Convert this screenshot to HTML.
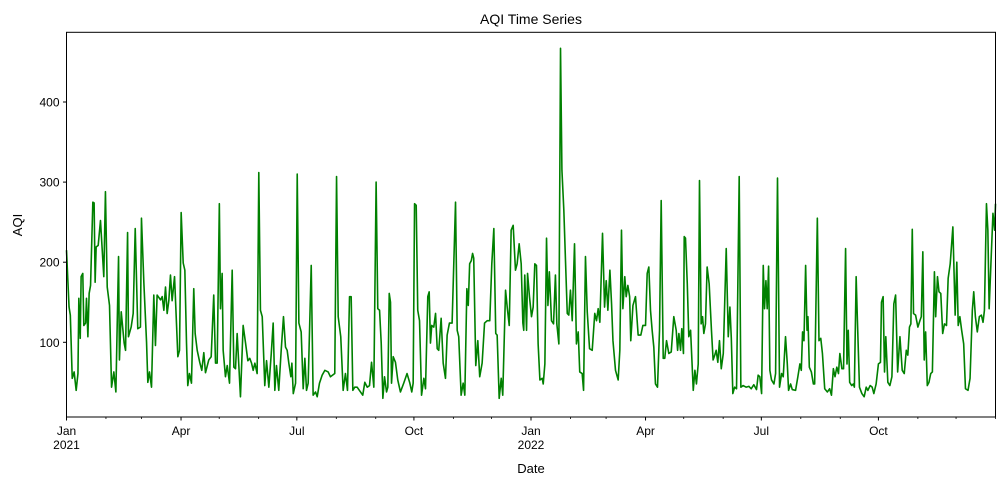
<!DOCTYPE html>
<html><head><meta charset="utf-8"><style>
body{margin:0;background:#fff;}
svg{display:block;font-family:"Liberation Sans","DejaVu Sans",sans-serif;}
</style></head><body>
<svg id="chart" width="1005" height="486" viewBox="0 0 1005 486">
<rect x="0" y="0" width="1005" height="486" fill="#fff"/>
<text x="531" y="24" text-anchor="middle" font-size="14" fill="#000">AQI Time Series</text>
<text x="531" y="473" text-anchor="middle" font-size="13" fill="#000">Date</text>
<text x="22" y="225" text-anchor="middle" font-size="13" fill="#000" transform="rotate(-90 22 225)">AQI</text>
<g id="plot"></g>
</svg>
<script>
const days = [0,2,3,4.5,6,7.6,9,9.7,10.8,11.5,12.8,13.6,15,15.7,16.8,17.8,18.9,20.7,21.7,22.5,23.3,24.9,26.7,29.3,30.6,32,33.8,35.4,37.2,38.8,40.9,41.6,43,45.3,46.4,48,48.7,50.8,52.4,54,56,58.1,58.9,60.8,62.9,63.9,65.2,66.8,68.6,69.9,71.2,73.9,75.2,76.5,77.8,79.1,80.4,81.7,83,84.9,87.5,88.8,90.1,91.7,93,94.3,95.3,96.6,98.2,100,101.1,102.7,104.7,106.3,107.9,109.2,111.8,113.7,115.7,117.1,118.4,120.1,121,122.3,123.1,124.9,126.3,128.1,130.2,131.5,132.8,134.1,136.7,138.8,140.7,142.5,144,145.4,146.7,148,149.8,151.1,152.4,153.8,155.8,157.2,159,160.9,162.4,163.7,165,166.8,168.7,170.5,172.1,173.4,174.7,176.3,177.1,178.2,180,181.3,182.6,184.4,186,187.3,188.6,189.9,192.3,193.8,195.7,197,198.8,200.9,203,205.6,207.4,210.8,212.2,213.5,215.5,217.4,219.2,220.8,222.4,223.7,225,226.5,228.4,231,232.8,234.4,236.3,238.1,239.7,241.5,243.3,244.6,246,247.3,248.6,249.9,251.5,252.5,253.6,254.6,255.4,256.7,258.5,260.3,262.4,265,267.6,269.8,271.3,272.4,273.5,274.8,276,277.4,279,280.8,282.1,283.9,285,286,287,288.6,290,291.3,292.5,294.4,296,297.8,299.1,300.9,303,305.7,307,308.2,310.1,311.7,313,314.6,315.7,316.8,318.1,319.1,320,321.6,323.2,324.7,326.6,328.5,330.6,332.6,334.2,335.8,337.3,338.4,340,341.6,342.8,345,346.3,347.9,349.4,351,352.8,354.1,355.7,357.3,358.6,359.3,360.1,361.5,362.3,363.8,365.4,366.7,368,369.3,370.6,372,373.8,374.6,375.9,377.2,378.3,379.4,381.1,382.7,384.2,385.3,386.9,388.2,389.3,390.8,392.1,393.5,394.7,396,397.4,399.2,400.7,402.1,403.3,405.2,406.3,407.8,409.2,411,413.1,415.1,416.5,417.8,419.1,421.2,422.8,424.1,425.4,427,428.3,429.4,431.4,433.5,434.8,436.1,437.2,438.7,439.8,441.1,442.5,443.4,445.1,447.1,449.2,451.3,452.9,455,456.3,457.6,458.9,460.2,461.5,462.8,464.4,466,467.3,468.9,470.1,471.5,473.3,475.2,477.2,479.1,480.2,481.2,482.5,483.5,484.8,485.4,486.4,487.8,489,490.4,492.5,493.8,495,496.4,497.4,498.7,499.8,500.8,502.1,503.4,505,506.8,508.1,509.4,510.5,511.8,513.1,514.5,516.1,518.4,520,521.3,522.4,523.6,525,526.5,528.6,529.9,531.7,534.1,536.2,538,540.1,542.2,543.5,544.8,546.2,547.5,548.5,549.6,550.6,551.7,552.7,554,555.9,557.2,558.7,560.3,561.9,563.2,565,566.4,567.4,569,570.3,572.9,574.7,576.3,577.4,578.4,579.5,580.8,581.9,582.6,583.7,585.3,586.9,587.9,590,591.3,592.7,594,595.8,597.9,599.7,601.1,602.6,603.9,605.3,606.6,607.7,609.3,610.6,612.2,613.3,614.3,615.4,617,618.3,619.1,620.5,621.5,623.1,625,626.8,628.4,629.7,631.5,633.1,634.4,636.2,638,639.6,640.4,641.7,642.8,643.8,645.4,647,648.6,650.1,651.5,653.1,654.9,656.7,658.3,659.9,661.1,662.4,663.5,664.6,665.6,667.2,669,670.6,671.7,672.9,674,675.1,676.4,677.7,679.1,680.4,682,683,684.4,685.6,687,688.5,689.9,691.5,692.8,694.4,696.5,698.3,699.6,700.7,702,703.4,705,706.4,708.4,710,711.8,712.9,714.2,715.7,717.3,718.9,720.2,721.3,722.9,724,725,726.4,728,729.3,730];
const aqi = [215,144,134,55,63,40,61,155,105,182,186,121,124,155,107,161,171,275,274,175,219,221,252,182,288,169,146,44,63,38,207,78,138,99,90,237,107,119,136,242,117,119,255,174,100,50,63,44,159,96,159,153,157,140,169,136,152,184,152,182,82,90,262,199,190,99,46,61,49,167,111,90,75,65,87,62,78,82,159,74,74,273,142,186,90,57,71,49,190,69,67,111,32,121,99,77,80,74,65,74,61,312,140,132,46,77,44,86,124,40,71,40,90,132,94,90,74,57,74,36,49,310,124,113,42,80,40,49,196,34,38,32,49,59,65,63,57,61,307,132,107,40,61,40,157,157,40,44,44,38,34,50,44,46,75,44,300,142,140,99,30,57,38,44,161,150,49,82,75,53,38,49,61,49,38,49,273,271,140,127,34,55,42,157,163,99,121,119,136,92,90,130,74,55,109,124,124,275,115,107,34,49,34,167,146,198,202,211,205,71,102,57,74,124,127,127,198,242,111,109,30,55,34,165,144,121,240,246,190,198,223,198,124,115,184,115,186,157,132,144,198,196,98,53,55,48,73,230,146,188,127,123,184,123,98,467,315,265,202,136,134,165,127,223,98,113,63,61,40,207,138,92,90,136,127,142,125,236,144,177,140,190,148,102,65,53,90,240,142,182,157,171,157,102,146,157,109,109,121,121,186,194,140,115,94,48,44,115,277,80,80,102,86,88,132,115,90,111,90,117,86,232,230,173,107,115,40,65,48,73,302,123,132,111,123,194,173,115,78,84,90,75,102,67,86,217,107,144,105,36,44,42,307,44,46,44,45,42,47,41,59,57,36,196,142,177,142,195,65,53,48,61,305,44,61,57,107,73,40,48,41,40,57,73,65,113,102,196,115,132,69,63,48,48,255,102,105,86,42,38,42,34,67,57,69,61,86,67,67,217,73,115,50,46,48,44,182,127,44,36,32,44,40,46,44,36,48,73,75,150,157,63,107,50,46,57,148,159,63,107,65,61,90,84,119,123,241,136,134,119,127,132,213,78,113,46,50,61,63,188,132,182,163,161,111,123,121,180,198,244,134,200,121,132,115,98,42,40,55,140,163,132,113,132,134,125,140,273,240,142,198,261,240,273];
const yTickVals = [100,200,300,400];
const xTickDays = [0,90,181,273,365,455,546,638];
const xTickLabels = [["Jan","2021"],["Apr",""],["Jul",""],["Oct",""],["Jan","2022"],["Apr",""],["Jul",""],["Oct",""]];
const monthStartDays = [0,31,59,90,120,151,181,212,243,273,304,334,365,396,424,455,485,516,546,577,608,638,669,699,730];

const NS = "http://www.w3.org/2000/svg";
const L = 66.5, R = 995.5, T = 32.3, B = 417;
const xScale = d => L + d * (R - L) / 730;
const yScale = v => 422.4 - v * 0.801;
const g = document.getElementById('plot');
function mk(tag, attrs){ const e = document.createElementNS(NS, tag); for (const k in attrs) e.setAttribute(k, attrs[k]); return e; }

// series line
let dstr = '';
days.forEach((d,i)=>{ dstr += (i ? 'L' : 'M') + xScale(d).toFixed(2) + ' ' + yScale(aqi[i]).toFixed(2); });
const line = mk('path', {d: dstr, fill: 'none', stroke: '#008000', 'stroke-width': 1.6, 'stroke-linejoin': 'round'});


g.appendChild(line);

// frame
const frame = mk('rect', {x: L, y: T, width: R - L, height: B - T, fill: 'none', stroke: '#000', 'stroke-width': 1});


g.appendChild(frame);

// y ticks
yTickVals.forEach(v => {
  const y = yScale(v);
  const t = mk('line', {x1: L - 3.5, x2: L, y1: y, y2: y, stroke: '#000', 'stroke-width': 1});
  
  
  g.appendChild(t);
  const lb = mk('text', {x: L - 7, y: y + 4.5, 'text-anchor': 'end', 'font-size': 12, fill: '#000'});
  lb.textContent = v;
  
  
  g.appendChild(lb);
});

// minor x ticks
monthStartDays.forEach(d => {
  if (xTickDays.includes(d)) return;
  const x = xScale(d);
  const t = mk('line', {x1: x, x2: x, y1: B, y2: B + 2, stroke: '#000', 'stroke-width': 0.8});
  
  
  g.appendChild(t);
});

// major x ticks
xTickDays.forEach((d,i) => {
  const x = xScale(d);
  const t = mk('line', {x1: x, x2: x, y1: B, y2: B + 3.5, stroke: '#000', 'stroke-width': 1});
  
  
  g.appendChild(t);
  const lb = mk('text', {x: x, y: B + 18, 'text-anchor': 'middle', 'font-size': 12, fill: '#000'});
  lb.textContent = xTickLabels[i][0];
  
  
  g.appendChild(lb);
  if (xTickLabels[i][1]) {
    const lb2 = mk('text', {x: x, y: B + 32, 'text-anchor': 'middle', 'font-size': 12, fill: '#000'});
    lb2.textContent = xTickLabels[i][1];
    
    
    g.appendChild(lb2);
  }
});
</script>
</body></html>
